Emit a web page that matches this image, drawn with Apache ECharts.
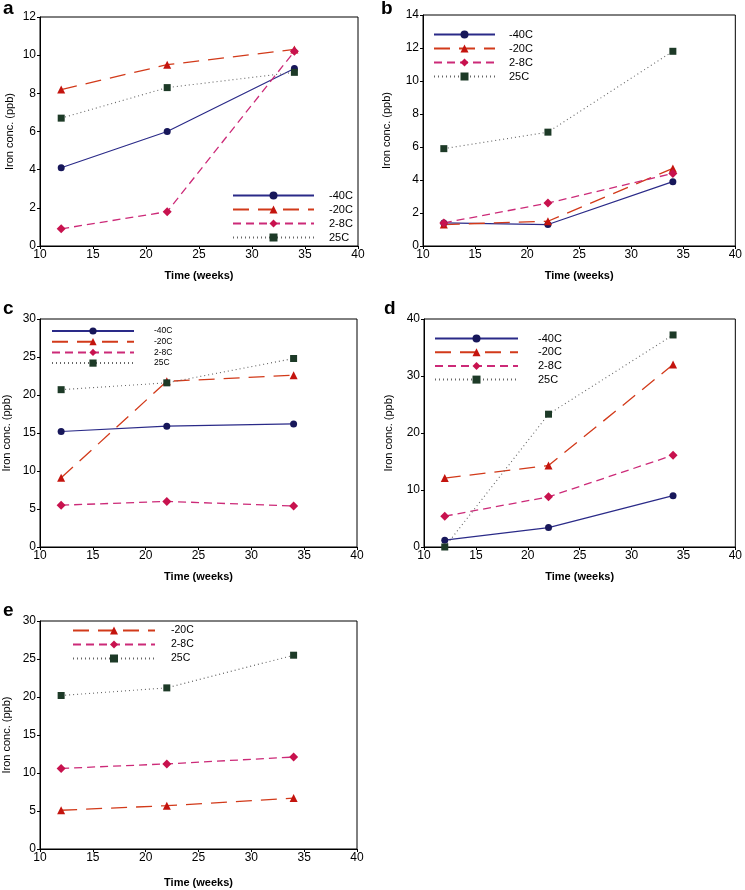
<!DOCTYPE html>
<html><head><meta charset="utf-8">
<script src="https://cdn.jsdelivr.net/npm/echarts@6/dist/echarts.min.js"></script>
<style>html,body{margin:0;padding:0;background:#fff}#c{width:745px;height:890px}</style>
</head><body><div id="c"></div>
<script>
const weeks = [12, 22, 34];
const seriesNames = ['-40C', '-20C', '2-8C', '25C'];
// panel a
const a_m40 = [4.1, 6.0, 9.3];
const a_m20 = [8.2, 9.5, 10.3];
const a_28 = [0.9, 1.8, 10.2];
const a_25 = [6.7, 8.3, 9.1];
// panel b
const b_m40 = [1.4, 1.3, 3.9];
const b_m20 = [1.3, 1.5, 4.7];
const b_28 = [1.4, 2.6, 4.4];
const b_25 = [5.9, 6.9, 11.8];
// panel c
const c_m40 = [15.2, 15.9, 16.2];
const c_m20 = [9.1, 21.8, 22.6];
const c_28 = [5.5, 6.0, 5.4];
const c_25 = [20.7, 21.6, 24.8];
// panel d
const d_m40 = [1.2, 3.4, 9.0];
const d_m20 = [12.1, 14.3, 32.0];
const d_28 = [5.4, 8.8, 16.1];
const d_25 = [0.0, 23.3, 37.2];
// panel e
const e_m20 = [5.1, 5.7, 6.7];
const e_28 = [10.6, 11.2, 12.1];
const e_25 = [20.2, 21.2, 25.5];

const xMin = 10, xMax = 40, xStep = 5;
const xTitle = 'Time (weeks)';
const yTitle = 'Iron conc. (ppb)';

const styles = {
  '-40C': {line: {color: '#2a2a88', width: 1.2, type: 'solid'}, sym: 'circle', size: 7, mcol: '#17175a'},
  '-20C': {line: {color: '#d23a1a', width: 1.3, type: [16, 9]}, sym: 'triangle', size: 8, mcol: '#c4140e'},
  '2-8C': {line: {color: '#cc2a78', width: 1.3, type: [8, 5]}, sym: 'diamond', size: 9, mcol: '#c8124e'},
  '25C':  {line: {color: '#666666', width: 1.1, type: [1, 3]}, sym: 'rect', size: 7, mcol: '#1d3a27'}
};

const FONT = '"Liberation Sans", Arial, sans-serif';

const panels = [
  {label: 'a', grid: {left: 40, top: 17, width: 318, height: 229}, yMax: 12, yStep: 2,
   data: {'-40C': a_m40, '-20C': a_m20, '2-8C': a_28, '25C': a_25},
   yGap: 25, xGap: 24, labPos: [3, -1],
   legend: {left: 232, top: 190, w: 81, gap: 3, pad: 10, fs: 11}},
  {label: 'b', grid: {left: 423, top: 15, width: 318, height: 231}, yMax: 14, yStep: 2,
   data: {'-40C': b_m40, '-20C': b_m20, '2-8C': b_28, '25C': b_25},
   yGap: 31, xGap: 24, labPos: [381, -1],
   legend: {left: 433, top: 29, w: 61, gap: 3, pad: 9, fs: 11}},
  {label: 'c', grid: {left: 40, top: 319, width: 317, height: 228}, yMax: 30, yStep: 5,
   data: {'-40C': c_m40, '-20C': c_m20, '2-8C': c_28, '25C': c_25},
   yGap: 28, xGap: 24, labPos: [3, 299],
   legend: {left: 51, top: 326.5, w: 82, gap: 1.7, pad: 15, fs: 8.5, ih: 9}},
  {label: 'd', grid: {left: 424, top: 319, width: 316, height: 228}, yMax: 40, yStep: 10,
   data: {'-40C': d_m40, '-20C': d_m20, '2-8C': d_28, '25C': d_25},
   yGap: 30, xGap: 24, labPos: [384, 299],
   legend: {left: 434, top: 333, w: 83, gap: 2.7, pad: 15, fs: 11}},
  {label: 'e', grid: {left: 40, top: 621, width: 317, height: 228}, yMax: 30, yStep: 5,
   data: {'-20C': e_m20, '2-8C': e_28, '25C': e_25},
   yGap: 28, xGap: 28, labPos: [3, 601],
   legend: {left: 72, top: 625, w: 82, gap: 3, pad: 11, fs: 10.5}}
];

const option = {
  animation: false,
  backgroundColor: '#fff',
  textStyle: {fontFamily: FONT},
  title: [], grid: [], xAxis: [], yAxis: [], legend: [], series: []
};

panels.forEach((p, i) => {
  option.title.push({text: p.label, left: p.labPos[0], top: p.labPos[1], padding: 0,
    textStyle: {fontFamily: FONT, fontSize: 19, fontWeight: 'bold', color: '#000'}});
  option.grid.push(Object.assign({show: true, borderColor: '#000', borderWidth: 1, backgroundColor: 'transparent'}, p.grid));
  option.xAxis.push({type: 'value', gridIndex: i, min: xMin, max: xMax, interval: xStep,
    name: xTitle, nameLocation: 'middle', nameGap: p.xGap,
    nameTextStyle: {fontFamily: FONT, fontSize: 11, fontWeight: 'bold', color: '#000'},
    axisLine: {lineStyle: {color: '#000', width: 1}},
    axisTick: {show: true, length: 3, lineStyle: {color: '#000'}},
    axisLabel: {fontFamily: FONT, fontSize: 12, color: '#000', margin: 3},
    splitLine: {show: false}});
  option.yAxis.push({type: 'value', gridIndex: i, min: 0, max: p.yMax, interval: p.yStep,
    name: yTitle, nameLocation: 'middle', nameGap: p.yGap,
    nameTextStyle: {fontFamily: FONT, fontSize: 11, color: '#000'},
    axisLine: {lineStyle: {color: '#000', width: 1}},
    axisTick: {show: true, length: 3, lineStyle: {color: '#000'}},
    axisLabel: {fontFamily: FONT, fontSize: 12, color: '#000', margin: 4},
    splitLine: {show: false}});
  const names = Object.keys(p.data);
  const L = p.legend;
  const ih = L.ih || 10;
  option.legend.push({
    orient: 'vertical', left: L.left, top: L.top, padding: 0,
    itemWidth: L.w, itemHeight: ih, itemGap: L.gap,
    data: names,
    selectedMode: false,
    textStyle: {fontFamily: FONT, fontSize: L.fs, color: '#000', lineHeight: ih, padding: [0, 0, 0, L.pad]}
  });
  names.forEach(n => {
    const s = styles[n];
    option.series.push({
      name: n, type: 'line', xAxisIndex: i, yAxisIndex: i,
      data: weeks.map((w, k) => [w, p.data[n][k]]),
      symbol: s.sym, symbolSize: s.size, showSymbol: true,
      lineStyle: s.line,
      itemStyle: {color: s.mcol, borderWidth: 0},
      z: 3
    });
  });
});

const chart = echarts.init(document.getElementById('c'), null, {renderer: 'canvas'});
chart.setOption(option);
</script>
</body></html>
